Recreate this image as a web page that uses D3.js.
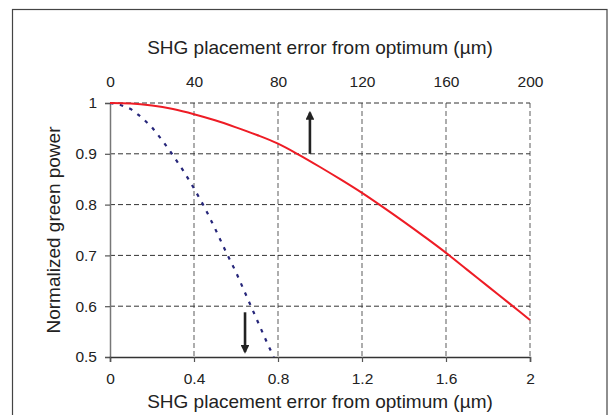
<!DOCTYPE html>
<html>
<head>
<meta charset="utf-8">
<script src="https://cdn.jsdelivr.net/npm/d3@7"></script>
<style>
  body { margin: 0; background: #fff; }
  svg text { font-family: "Liberation Sans", Arial, sans-serif; fill: #222; }
</style>
</head>
<body>
<div id="canvas"></div>
<script>
"use strict"

/* Data (bottom axis units) */
let bottomTicks = [0, 0.4, 0.8, 1.2, 1.6, 2];
let topTicks = [0, 40, 80, 120, 160, 200];
let yTicks = [0.5, 0.6, 0.7, 0.8, 0.9, 1];

let redX = [0, 0.1, 0.2, 0.3, 0.4, 0.5, 0.6, 0.7, 0.8, 0.9, 1.0, 1.1, 1.2, 1.3, 1.4, 1.5, 1.6, 1.7, 1.8, 1.9, 2.0];
let redY = [1.0, 0.999, 0.995, 0.988, 0.978, 0.966, 0.952, 0.937, 0.920, 0.898, 0.874, 0.849, 0.823, 0.795, 0.766, 0.736, 0.705, 0.672, 0.639, 0.606, 0.573];

let blueX = [0, 0.05, 0.1, 0.15, 0.2, 0.25, 0.3, 0.35, 0.4, 0.45, 0.5, 0.55, 0.6, 0.65, 0.7, 0.75, 0.78];
let blueY = [1.0, 0.996, 0.988, 0.972, 0.952, 0.926, 0.897, 0.866, 0.832, 0.795, 0.753, 0.709, 0.667, 0.620, 0.573, 0.526, 0.5];

/* arrows: [x, yStart, yEnd] */
let upArrow = [0.952, 0.9, 0.981];
let downArrow = [0.643, 0.588, 0.51];

/* Configuration variables: drawing */
let svgWidth = 608;
let svgHeight = 415;
let plot = { left: 110, right: 530, top: 103, bottom: 357 };
let font = "Liberation Sans, Arial, sans-serif";

let svg = d3.select("#canvas")
    .append("svg")
    .attr("width", svgWidth)
    .attr("height", svgHeight);

/* outer frame */
svg.append("rect")
    .attr("x", 12.5)
    .attr("y", 9.5)
    .attr("width", 594.5)
    .attr("height", 430)
    .attr("fill", "none")
    .attr("stroke", "#444")
    .attr("stroke-width", 1.2);

let xScale = d3.scaleLinear()
    .domain([0, 2])
    .range([plot.left, plot.right]);

let xTopScale = d3.scaleLinear()
    .domain([0, 200])
    .range([plot.left, plot.right]);

let yScale = d3.scaleLinear()
    .domain([0.5, 1])
    .range([plot.bottom, plot.top]);

/* grid lines */
svg.append("g")
    .selectAll("line")
    .data(bottomTicks.slice(1))
    .join("line")
    .attr("x1", d => xScale(d))
    .attr("x2", d => xScale(d))
    .attr("y1", plot.top)
    .attr("y2", plot.bottom)
    .attr("stroke", "#777")
    .attr("stroke-width", 1.2)
    .attr("stroke-dasharray", "5,3");

svg.append("g")
    .selectAll("line")
    .data(yTicks.slice(1))
    .join("line")
    .attr("x1", plot.left)
    .attr("x2", plot.right)
    .attr("y1", d => yScale(d))
    .attr("y2", d => yScale(d))
    .attr("stroke", "#333")
    .attr("stroke-width", 1)
    .attr("stroke-dasharray", "5,3");

/* axes */
let yAxis = svg.append("g")
    .attr("transform", `translate(${plot.left},0)`)
    .call(d3.axisLeft(yScale)
        .tickValues(yTicks)
        .tickFormat(d => String(d))
        .tickSize(5)
        .tickPadding(8));
yAxis.attr("font-family", font);
yAxis.select(".domain").attr("stroke", "#777").attr("stroke-width", 1.5);
yAxis.selectAll(".tick line").attr("stroke", "#555").attr("stroke-width", 1.2);
yAxis.selectAll(".tick text").attr("font-size", 15.5).attr("fill", "#222");

let xAxis = svg.append("g")
    .attr("transform", `translate(0,${plot.bottom})`)
    .call(d3.axisBottom(xScale)
        .tickValues(bottomTicks)
        .tickFormat(d => String(d))
        .tickSize(5)
        .tickPadding(11));
xAxis.attr("font-family", font);
xAxis.select(".domain").attr("stroke", "#333").attr("stroke-width", 1.5);
xAxis.selectAll(".tick line").attr("stroke", "#555").attr("stroke-width", 1.2);
xAxis.selectAll(".tick text").attr("font-size", 15.5).attr("fill", "#222");

let xTopAxis = svg.append("g")
    .attr("transform", `translate(0,${plot.top})`)
    .call(d3.axisTop(xTopScale)
        .tickValues(topTicks)
        .tickSize(0)
        .tickPadding(16));
xTopAxis.attr("font-family", font);
xTopAxis.select(".domain").remove();
xTopAxis.selectAll(".tick text").attr("font-size", 15.5).attr("fill", "#222");

/* curves */
let line = d3.line()
    .x(d => xScale(d[0]))
    .y(d => yScale(d[1]));

svg.append("path")
    .datum(blueX.map((x, i) => [x, blueY[i]]))
    .attr("d", line)
    .attr("fill", "none")
    .attr("stroke", "#26267a")
    .attr("stroke-width", 2.2)
    .attr("stroke-dasharray", "3.5,6.5");

svg.append("path")
    .datum(redX.map((x, i) => [x, redY[i]]))
    .attr("d", line.curve(d3.curveMonotoneX))
    .attr("fill", "none")
    .attr("stroke", "#ee1c25")
    .attr("stroke-width", 2);

/* arrows */
let defs = svg.append("defs");
defs.append("marker")
    .attr("id", "head")
    .attr("viewBox", "0 0 10 10")
    .attr("refX", 8)
    .attr("refY", 5)
    .attr("markerWidth", 3.6)
    .attr("markerHeight", 3.4)
    .attr("orient", "auto")
    .append("path")
    .attr("d", "M0,0 L10,5 L0,10 Z")
    .attr("fill", "#222");

[upArrow, downArrow].forEach(a => {
    svg.append("line")
        .attr("x1", xScale(a[0]))
        .attr("x2", xScale(a[0]))
        .attr("y1", yScale(a[1]))
        .attr("y2", yScale(a[2]))
        .attr("stroke", "#222")
        .attr("stroke-width", 2.6)
        .attr("marker-end", "url(#head)");
});

/* axis titles */
svg.append("text")
    .attr("x", (plot.left + plot.right) / 2)
    .attr("y", 54)
    .attr("text-anchor", "middle")
    .attr("font-size", 19)
    .text("SHG placement error from optimum (\u00b5m)");

svg.append("text")
    .attr("x", (plot.left + plot.right) / 2)
    .attr("y", 408)
    .attr("text-anchor", "middle")
    .attr("font-size", 19)
    .text("SHG placement error from optimum (\u00b5m)");

svg.append("text")
    .attr("transform", `translate(60,${(plot.top + plot.bottom) / 2}) rotate(-90)`)
    .attr("text-anchor", "middle")
    .attr("font-size", 19)
    .text("Normalized green power");
</script>
</body>
</html>
